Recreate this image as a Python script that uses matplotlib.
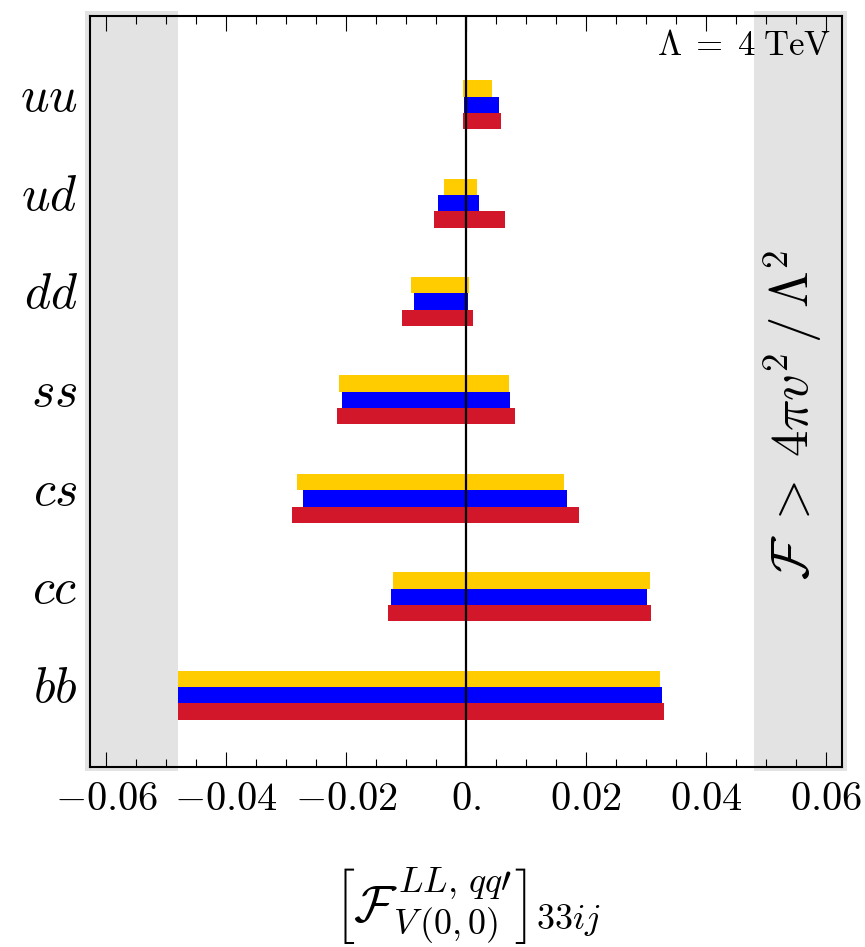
import numpy as np
import matplotlib
matplotlib.use('Agg')
import matplotlib.pyplot as plt
from matplotlib.ticker import MultipleLocator, FixedLocator, FixedFormatter

plt.rcParams['mathtext.fontset'] = 'cm'
plt.rcParams['font.family'] = 'serif'
plt.rcParams['font.serif'] = ['DejaVu Serif']

# data (top group first)
categories = ['uu', 'ud', 'dd', 'ss', 'cs', 'cc', 'bb']
yellow_lo = [-0.0005, -0.0037, -0.0091, -0.0211, -0.0281, -0.0121, -0.048]
yellow_hi = [0.0043, 0.0018, 0.00045, 0.0072, 0.0163, 0.0307, 0.0324]
blue_lo = [-0.0003, -0.0046, -0.0087, -0.0207, -0.0272, -0.0125, -0.048]
blue_hi = [0.0055, 0.0021, 0.0004, 0.0074, 0.0169, 0.0302, 0.0327]
red_lo = [-0.0005, -0.0054, -0.0106, -0.0215, -0.0290, -0.0130, -0.048]
red_hi = [0.0058, 0.0065, 0.0011, 0.0081, 0.0188, 0.0308, 0.0330]

xticks = [-0.06, -0.04, -0.02, 0.0, 0.02, 0.04, 0.06]
xticklabels = ['$-0.06$', '$-0.04$', '$-0.02$', '$0.$', '$0.02$', '$0.04$', '$0.06$']
bound = 0.048

fig = plt.figure(figsize=(8.65, 9.47), dpi=100)
ax = fig.add_axes([0.1040, 0.1901, 0.8694, 0.7934])

xlim = (-0.0627, 0.0627)
ax.set_xlim(xlim)
ax.set_ylim(-0.73, 6.906)

# excluded regions
pad = 0.0008
ax.axvspan(xlim[0] - pad, -bound, ymin=-0.006, ymax=1.006, color='#e3e3e3',
           lw=0, zorder=0, clip_on=False)
ax.axvspan(bound, xlim[1] + pad, ymin=-0.006, ymax=1.006, color='#e3e3e3',
           lw=0, zorder=0, clip_on=False)

y = np.arange(len(categories))[::-1].astype(float)
h = 0.166
series = [(yellow_lo, yellow_hi, '#ffcc00', h),
          (blue_lo, blue_hi, '#0000ff', 0.0),
          (red_lo, red_hi, '#d2172b', -h)]
for lo, hi, col, off in series:
    lo = np.array(lo)
    hi = np.array(hi)
    ax.barh(y + off, hi - lo, left=lo, height=h, color=col, lw=0, zorder=2)

ax.axvline(0, color='black', lw=1.6, zorder=3)

ax.xaxis.set_major_locator(FixedLocator(xticks))
ax.xaxis.set_major_formatter(FixedFormatter(xticklabels))
ax.xaxis.set_minor_locator(MultipleLocator(0.005))
ax.tick_params(axis='x', which='both', direction='in', top=True, bottom=True,
               labelsize=29, pad=10)
ax.tick_params(axis='x', which='major', length=11, width=0.8)
ax.tick_params(axis='x', which='minor', length=5.5, width=0.8)

# labels sit a little above the group centres
ax.set_yticks(y + 0.13)
ax.set_yticklabels(['$' + c + '$' for c in categories])
ax.tick_params(axis='y', length=0, labelsize=36, pad=9)

for s in ax.spines.values():
    s.set_linewidth(1.5)
    s.set_zorder(4)

ax.text(0.985, 0.983, r'$\Lambda\;=\;4\;\mathrm{TeV}$', transform=ax.transAxes,
        ha='right', va='top', fontsize=25)
ax.text(0.0545, 2.85, r'$\mathcal{F}\;>\;4\pi v^2\,/\,\Lambda^2$', rotation=90,
        ha='center', va='center', fontsize=38)

fig.text(0.54, 0.043,
         r'$\left[\mathcal{F}^{\,LL,\,qq\prime}_{V\,(0,0)}\right]_{33ij}$',
         ha='center', va='center', fontsize=37)

fig.savefig('out.png', dpi=100)
